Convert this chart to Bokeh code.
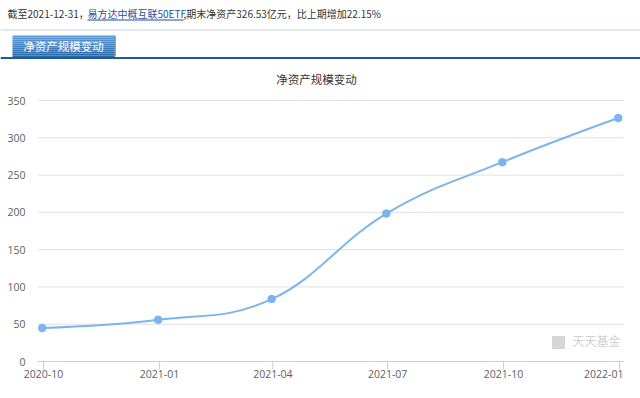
import pandas as pd
from bokeh.plotting import figure
from bokeh.layouts import column
from bokeh.models import Range1d
from bokeh.core.properties import value
from bokeh.embed import file_html
from bokeh.resources import INLINE

# ---------------- data ----------------
report_dates = ["2020-09-30", "2020-12-31", "2021-03-31", "2021-06-30", "2021-09-30", "2021-12-31"]
net_assets = [44.8, 55.9, 83.7, 198.4, 267.32, 326.53]   # 亿元
tick_dates = ["2020-10-01", "2021-01-01", "2021-04-01", "2021-07-01", "2021-10-01", "2022-01-01"]
tick_labels = ["2020-10", "2021-01", "2021-04", "2021-07", "2021-10", "2022-01"]
y_ticks = [0, 50, 100, 150, 200, 250, 300, 350]
y_tick_labels = ["0", "50", "100", "150", "200", "250", "300", "350"]
fund_name = "易方达中概互联50ETF"
report_end = "2021-12-31"
chart_title = "净资产规模变动"

def to_ms(lst):
    return [int(v) for v in (pd.to_datetime(lst).asi8 // 10**6)]

xs = to_ms(report_dates)
tick_ms = to_ms(tick_dates)
DAY = 86400000

W = 640
cjk = value("Noto Sans CJK SC")
osans = value("Open Sans")

# ---------------- header (pixel coordinates) ----------------
HH = 92
hdr = figure(width=W, height=HH, x_range=Range1d(0, W), y_range=Range1d(HH, 0),
             output_backend="svg", toolbar_location=None, min_border=0)
hdr.xaxis.visible = False
hdr.yaxis.visible = False
hdr.grid.visible = False
hdr.outline_line_color = None
hdr.frame_align = False

growth = (net_assets[-1] / net_assets[-2] - 1) * 100
t1 = f"截至{report_end}，"
t3 = f",期末净资产{net_assets[-1]:.2f}亿元，比上期增加{growth:.2f}%"
hdr.text(x=[7], y=[13], text=[t1], text_font=cjk, text_font_size="10px",
         text_color="#333333", text_baseline="middle")
hdr.text(x=[87], y=[13], text=[fund_name], text_font=cjk, text_font_size="10px",
         text_color="#1f4fa0", text_baseline="middle")
hdr.segment(x0=[87], y0=[19.5], x1=[183], y1=[19.5], line_color="#1f4fa0", line_width=1)
hdr.text(x=[183], y=[13], text=[t3], text_font=cjk, text_font_size="10px",
         text_color="#333333", text_baseline="middle")

# thin separator
hdr.segment(x0=[0], y0=[29.5], x1=[W], y1=[29.5], line_color="#c9d5e2", line_width=1)

# tab with vertical gradient
top_c = (0x5b, 0x9c, 0xd8)
bot_c = (0x2a, 0x67, 0xa8)
n = 11
tops, bots, cols = [], [], []
for i in range(n):
    f = i / (n - 1)
    c = tuple(int(round(top_c[j] + (bot_c[j] - top_c[j]) * f)) for j in range(3))
    cols.append("#%02x%02x%02x" % c)
    tops.append(35 + i * 2)
    bots.append(35 + i * 2 + 2)
hdr.quad(left=[12] * n, right=[114] * n, top=tops, bottom=bots, fill_color=cols, line_color=None)
hdr.segment(x0=[114.5], y0=[35], x1=[114.5], y1=[56], line_color="#245a90", line_width=1)
hdr.text(x=[63], y=[45.5], text=[chart_title], text_font=cjk, text_font_size="11.5px",
         text_color="white", text_align="center", text_baseline="middle")
# dark blue rule under the tab
hdr.segment(x0=[0], y0=[57.5], x1=[W], y1=[57.5], line_color="#1e5b97", line_width=2)

# chart title
hdr.text(x=[316], y=[78], text=[chart_title], text_font=cjk, text_font_size="11.5px",
         text_color="#333333", text_align="center", text_baseline="middle")

# ---------------- chart ----------------
CH = 398 - HH          # chart canvas height (page y 92..398)
k = 576 / 457.0        # px per day
ppu = 261 / 350.0      # px per 亿元

def py2y(py):
    return (361 - py) / ppu

def px2x(px):
    return tick_ms[0] + (px - 43) / k * DAY

p = figure(width=W, height=CH, x_axis_type="datetime",
           x_range=Range1d(px2x(0), px2x(W)), y_range=Range1d(py2y(398), py2y(HH)),
           output_backend="svg", toolbar_location=None,
           x_axis_location=None, y_axis_location=None, min_border=0)
p.frame_align = False
p.outline_line_color = None
p.background_fill_color = "white"
p.grid.visible = False

gx0 = px2x(37)    # plot-area left edge
gx1 = px2x(623)   # plot-area right edge

# horizontal grid lines
p.segment(x0=[gx0] * len(y_ticks), y0=y_ticks, x1=[gx1] * len(y_ticks), y1=y_ticks,
          line_color="#e0e0e0", line_width=1)
# y tick labels
p.text(x=[gx0] * len(y_ticks), y=y_ticks, text=y_tick_labels, x_offset=-12,
       text_font=osans, text_font_size="10.5px", text_color="#606060",
       text_align="right", text_baseline="middle")

# x axis line, ticks and labels
p.segment(x0=[gx0], y0=[0], x1=[gx1], y1=[0], line_color="#c0d0e0", line_width=1)
p.segment(x0=tick_ms, y0=[0] * len(tick_ms), x1=tick_ms, y1=[py2y(369)] * len(tick_ms),
          line_color="#c0d0e0", line_width=1)
p.text(x=tick_ms[:-1], y=[py2y(373)] * (len(tick_ms) - 1), text=tick_labels[:-1],
       text_font=osans, text_font_size="10.5px", text_color="#606060",
       text_align="center", text_baseline="middle")
# last label justified to the plot edge, as in the original
p.text(x=[gx1], y=[py2y(373)], text=[tick_labels[-1]],
       text_font=osans, text_font_size="10.5px", text_color="#606060",
       text_align="right", text_baseline="middle")

# watermark
p.rect(x=[px2x(558)], y=[py2y(342)], width=13, height=13, width_units="screen",
       height_units="screen", fill_color="#d6d6d6", line_color=None)
p.text(x=[px2x(572)], y=[py2y(340)], text=["天天基金"], text_font=cjk,
       text_font_size="12px", text_color="#d0d0d0", text_baseline="middle")

# highcharts-style spline
def spline_controls(xv, yv, smoothing=1.5):
    m = len(xv)
    left = [(xv[i], yv[i]) for i in range(m)]
    right = [(xv[i], yv[i]) for i in range(m)]
    d = smoothing + 1
    for i in range(1, m - 1):
        lx = (smoothing * xv[i] + xv[i - 1]) / d
        ly = (smoothing * yv[i] + yv[i - 1]) / d
        rx = (smoothing * xv[i] + xv[i + 1]) / d
        ry = (smoothing * yv[i] + yv[i + 1]) / d
        if rx != lx:
            corr = ((ry - ly) * (rx - xv[i])) / (rx - lx) + yv[i] - ry
            ly += corr
            ry += corr
        if ly > yv[i - 1] and ly > yv[i]:
            ly = max(yv[i - 1], yv[i]); ry = 2 * yv[i] - ly
        elif ly < yv[i - 1] and ly < yv[i]:
            ly = min(yv[i - 1], yv[i]); ry = 2 * yv[i] - ly
        if ry > yv[i + 1] and ry > yv[i]:
            ry = max(yv[i + 1], yv[i]); ly = 2 * yv[i] - ry
        elif ry < yv[i + 1] and ry < yv[i]:
            ry = min(yv[i + 1], yv[i]); ly = 2 * yv[i] - ry
        left[i] = (lx, ly)
        right[i] = (rx, ry)
    return left, right

lc, rc = spline_controls([float(v) for v in xs], net_assets)
segs = range(1, len(xs))
p.bezier(x0=[xs[i - 1] for i in segs], y0=[net_assets[i - 1] for i in segs],
         x1=[xs[i] for i in segs], y1=[net_assets[i] for i in segs],
         cx0=[rc[i - 1][0] for i in segs], cy0=[rc[i - 1][1] for i in segs],
         cx1=[lc[i][0] for i in segs], cy1=[lc[i][1] for i in segs],
         line_color="#7cb5ec", line_width=2)
p.scatter(x=xs, y=net_assets, size=8, fill_color="#7cb5ec", line_color="#7cb5ec", line_width=0.5)

layout = column(hdr, p, spacing=0)
open("out.html", "w").write(file_html(layout, INLINE))
